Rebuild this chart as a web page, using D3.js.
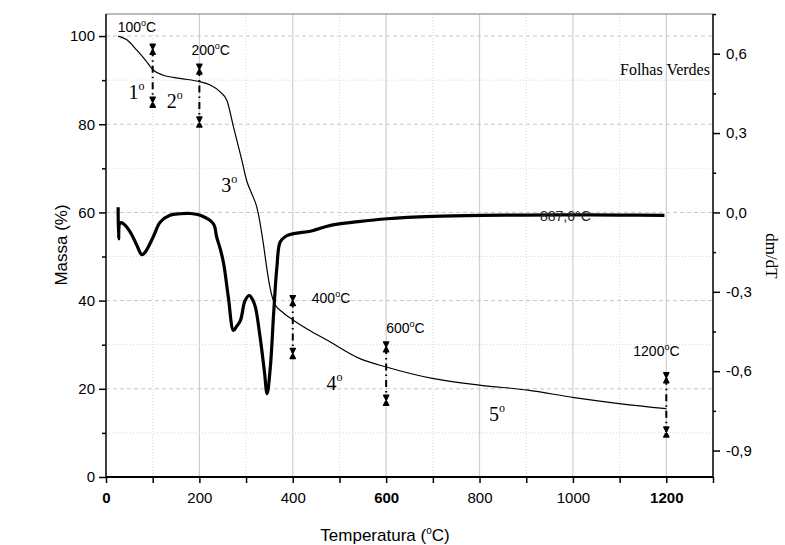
<!DOCTYPE html>
<html>
<head>
<meta charset="utf-8">
<script src="https://cdn.jsdelivr.net/npm/d3@7"></script>
<style>
  body { margin: 0; background: #fff; }
  text { font-family: Arial, "Liberation Sans", sans-serif; }
  .serif { font-family: "Times New Roman", "Liberation Serif", serif; }
</style>
</head>
<body>
<script>
//==DATA==//
// TG curve: temperature (C) and mass (%)
const tgTemp = [26, 44, 66, 84, 101, 123, 158, 202, 223, 244, 259, 273, 291, 301, 312, 323, 338, 344, 351, 361, 380, 402, 440, 474, 545, 602, 702, 803, 903, 1003, 1103, 1200];
const tgMass = [100, 99.2, 96.8, 94.6, 92.3, 91.1, 90.4, 89.6, 88.9, 87.4, 85.4, 79.4, 71.8, 67.3, 64.3, 61.2, 52.2, 47.6, 43.1, 39.3, 37.2, 35.5, 33.0, 31.0, 26.8, 24.9, 22.3, 20.8, 19.7, 18.0, 16.6, 15.5];

// DTG curve: temperature (C) and dm/dT
const dtgTemp = [26, 27, 30, 37, 52, 65, 77, 84, 101, 116, 137, 159, 180, 202, 230, 237, 245, 252, 262, 273, 280, 288, 298, 307, 314, 320, 330, 339, 345, 352, 359, 366, 373, 385, 402, 440, 481, 540, 602, 700, 803, 900, 1000, 1100, 1196];
const dtgValue = [0.02, -0.10, -0.04, -0.042, -0.074, -0.12, -0.16, -0.15, -0.093, -0.037, -0.011, -0.005, -0.004, -0.011, -0.043, -0.093, -0.14, -0.194, -0.32, -0.446, -0.43, -0.408, -0.332, -0.314, -0.33, -0.358, -0.471, -0.597, -0.685, -0.584, -0.383, -0.207, -0.112, -0.09, -0.08, -0.07, -0.049, -0.035, -0.024, -0.015, -0.011, -0.01, -0.009, -0.01, -0.011];

// stage markers (dash-dot lines with x caps)
const markTemp = [100, 200, 400, 600, 1200];
const markTop = [97, 92.5, 40, 29.5, 22.5];
const markBottom = [85, 80.5, 28, 17.4, 10.2];
const markLabel = ["100", "200", "400", "600", "1200"];

// stage numbers
const stageText = ["1", "2", "3", "4", "5"];
const stageTemp = [48, 130, 247, 472, 820];
const stageMass = [85.7, 83.6, 64.6, 19.7, 12.8];

// ticks
const xTicks = [0, 200, 400, 600, 800, 1000, 1200];
const xBold = [0, 600, 1200];
const leftTicks = [0, 20, 40, 60, 80, 100];
const rightTicks = [-0.9, -0.6, -0.3, 0.0, 0.3, 0.6];

//=SVG AREA=//
const width = 785;
const height = 545;

const svg = d3.select("body")
  .append("svg")
  .attr("width", width)
  .attr("height", height);

svg.append("rect").attr("width", width).attr("height", height).attr("fill", "#fff");

//==SCALES==//
const x = d3.scaleLinear().domain([0, 1300]).range([106, 713]);
const yL = d3.scaleLinear().domain([0, 105]).range([477, 14]);
const yR = d3.scaleLinear().domain([-1.0, 0.75]).range([477, 14]);

//==GRID==//
const grid = svg.append("g");
// vertical
grid.selectAll(".vmaj").data(d3.range(200, 1201, 200)).enter().append("line")
  .attr("x1", d => x(d)).attr("x2", d => x(d)).attr("y1", 14).attr("y2", 477)
  .attr("stroke", "#cfcfcf").attr("stroke-width", 1.2);
grid.selectAll(".vmin").data(d3.range(100, 1301, 200)).enter().append("line")
  .attr("x1", d => x(d)).attr("x2", d => x(d)).attr("y1", 14).attr("y2", 477)
  .attr("stroke", "#d8d8d8").attr("stroke-dasharray", "1,2");
// horizontal
grid.selectAll(".hmaj").data(d3.range(20, 101, 20)).enter().append("line")
  .attr("x1", 106).attr("x2", 713).attr("y1", d => yL(d)).attr("y2", d => yL(d))
  .attr("stroke", "#c8c8c8").attr("stroke-dasharray", "4,3");
grid.selectAll(".hmin").data(d3.range(10, 101, 20)).enter().append("line")
  .attr("x1", 106).attr("x2", 713).attr("y1", d => yL(d)).attr("y2", d => yL(d))
  .attr("stroke", "#d8d8d8").attr("stroke-dasharray", "1,2");

//==AXES==//
// top frame
svg.append("line").attr("x1", 106).attr("x2", 713).attr("y1", 14).attr("y2", 14)
  .attr("stroke", "#777").attr("stroke-width", 1.2);

const xAxis = svg.append("g")
  .attr("transform", "translate(0,477)")
  .call(d3.axisBottom(x).tickValues(d3.range(0, 1301, 100)).tickSize(6).tickPadding(9)
    .tickFormat(d => xTicks.includes(d) ? d : ""));
xAxis.select(".domain").attr("stroke-width", 2.2).attr("d", "M106,0H713");
xAxis.selectAll(".tick line").attr("stroke-width", 1.5);
xAxis.selectAll(".tick text")
  .attr("font-size", 15)
  .attr("font-family", "Arial, 'Liberation Sans', sans-serif")
  .attr("font-weight", d => xBold.includes(d) ? "bold" : "normal");

const leftAxis = svg.append("g")
  .attr("transform", "translate(106,0)")
  .call(d3.axisLeft(yL).tickValues(d3.range(0, 101, 10)).tickSize(7).tickPadding(4)
    .tickFormat(d => leftTicks.includes(d) ? d : ""));
leftAxis.select(".domain").attr("stroke-width", 1.5).attr("d", "M0,14V477");
leftAxis.selectAll(".tick line").attr("stroke-width", 1.5)
  .attr("x2", d => leftTicks.includes(d) ? -7 : -4);
leftAxis.selectAll(".tick text").attr("font-size", 15)
  .attr("font-family", "Arial, 'Liberation Sans', sans-serif");

const rightAxis = svg.append("g")
  .attr("transform", "translate(713,0)")
  .call(d3.axisRight(yR).tickValues([-0.9, -0.75, -0.6, -0.45, -0.3, -0.15, 0, 0.15, 0.3, 0.45, 0.6, 0.75])
    .tickSize(7).tickPadding(6)
    .tickFormat(d => rightTicks.some(t => Math.abs(t - d) < 1e-6) ? d3.format(".1f")(d).replace(".", ",").replace("−", "-") : ""));
rightAxis.select(".domain").attr("stroke-width", 1.5).attr("d", "M0,14V477");
rightAxis.selectAll(".tick line").attr("stroke-width", 1.5)
  .attr("x2", d => rightTicks.some(t => Math.abs(t - d) < 1e-6) ? 7 : 3);
rightAxis.selectAll(".tick text").attr("font-size", 15)
  .attr("font-family", "Arial, 'Liberation Sans', sans-serif");

//==AXIS TITLES==//
const xTitle = svg.append("text")
  .attr("x", 385).attr("y", 541)
  .attr("text-anchor", "middle").attr("font-size", 17);
xTitle.append("tspan").text("Temperatura (");
xTitle.append("tspan").attr("dy", -7).attr("font-size", 10).text("o");
xTitle.append("tspan").attr("dy", 7).text("C)");

svg.append("text")
  .attr("transform", "translate(67,245) rotate(-90)")
  .attr("text-anchor", "middle").attr("font-size", 17)
  .text("Massa (%)");

svg.append("text")
  .attr("class", "serif")
  .attr("transform", "translate(766,256) rotate(90)")
  .attr("text-anchor", "middle").attr("font-size", 17)
  .text("dm/dT");

svg.append("text")
  .attr("class", "serif")
  .attr("x", 620).attr("y", 75).attr("font-size", 16)
  .text("Folhas Verdes");

//==CURVES==//
const tgData = tgTemp.map((t, i) => [t, tgMass[i]]);
const dtgData = dtgTemp.map((t, i) => [t, dtgValue[i]]);

svg.append("path")
  .datum(dtgData)
  .attr("fill", "none")
  .attr("stroke", "#000")
  .attr("stroke-width", 3.2)
  .attr("stroke-linejoin", "round")
  .attr("d", d3.line().x(d => x(d[0])).y(d => yR(d[1])).curve(d3.curveCatmullRom));

svg.append("text")
  .attr("x", 540).attr("y", 221).attr("font-size", 14).attr("fill", "#222")
  .text("887,6°C");

svg.append("path")
  .datum(tgData)
  .attr("fill", "none")
  .attr("stroke", "#000")
  .attr("stroke-width", 1.2)
  .attr("d", d3.line().x(d => x(d[0])).y(d => yL(d[1])).curve(d3.curveMonotoneX));

//==STAGE MARKERS==//
const labelDx = [-35, -8, 19, 0, -33];
const labelDy = [-17, -14, 2, -14, -22];
const marks = svg.append("g");
markTemp.forEach(function(t, i) {
  marks.append("line")
    .attr("x1", x(t)).attr("x2", x(t))
    .attr("y1", yL(markTop[i])).attr("y2", yL(markBottom[i]))
    .attr("stroke", "#000").attr("stroke-width", 2)
    .attr("stroke-dasharray", "7,4,1.5,4");
  [markTop[i], markBottom[i]].forEach(function(m) {
    marks.append("path")
      .attr("transform", "translate(" + x(t) + "," + yL(m) + ")")
      .attr("d", "M-2.6,-5H2.6L-2.6,5H2.6Z")
      .attr("fill", "#000").attr("stroke", "#000").attr("stroke-width", 1.4)
      .attr("stroke-linejoin", "round");
  });
  const lbl = marks.append("text")
    .attr("x", x(t) + labelDx[i])
    .attr("y", yL(markTop[i]) + labelDy[i])
    .attr("font-size", 14);
  lbl.append("tspan").text(markLabel[i]);
  lbl.append("tspan").attr("dy", -6).attr("font-size", 9).text("o");
  lbl.append("tspan").attr("dy", 6).text("C");
});

//==STAGE NUMBERS==//
stageText.forEach(function(s, i) {
  const t = svg.append("text")
    .attr("class", "serif")
    .attr("x", x(stageTemp[i])).attr("y", yL(stageMass[i]))
    .attr("font-size", 20);
  t.append("tspan").text(s);
  t.append("tspan").attr("dy", -9).attr("font-size", 12).text("o");
});
</script>
</body>
</html>
